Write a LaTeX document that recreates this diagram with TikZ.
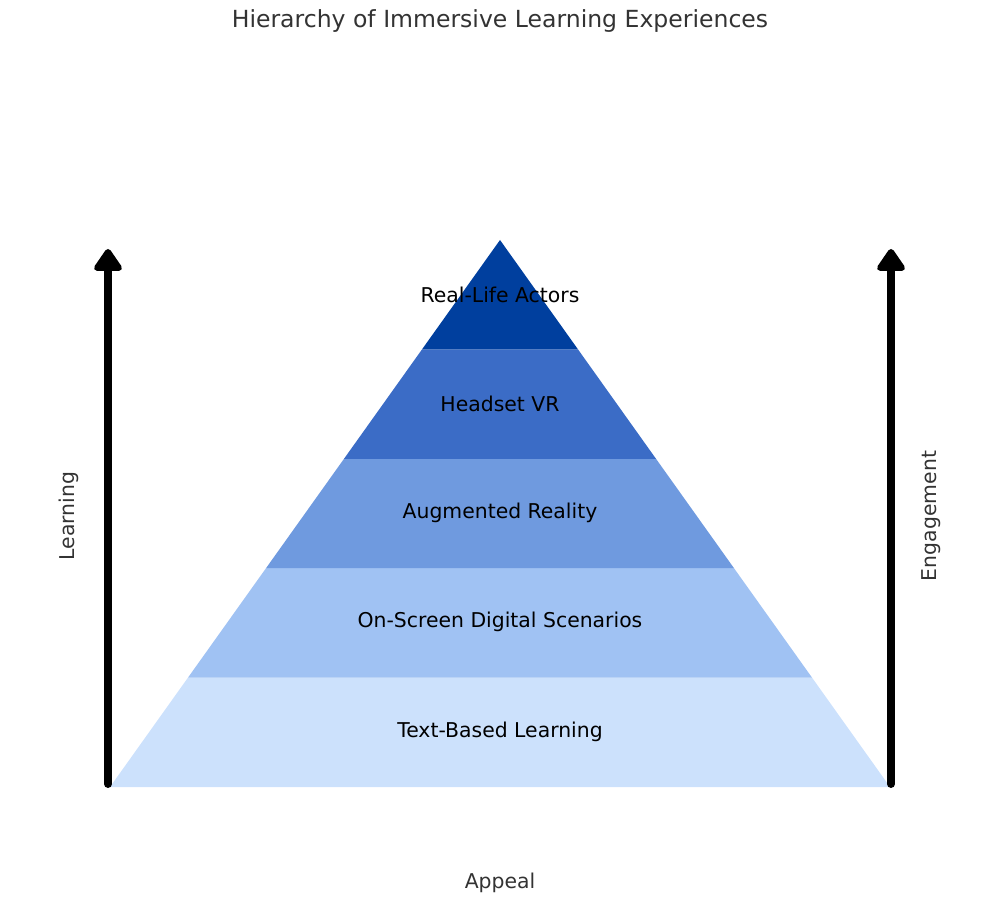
\documentclass[tikz,border=0pt]{standalone}
\usepackage{fontspec}
\setmainfont{DejaVu Sans}
\usetikzlibrary{arrows.meta, calc}
\definecolor{bandA}{HTML}{CCE1FC}
\definecolor{bandB}{HTML}{A0C2F3}
\definecolor{bandC}{HTML}{6F9ADF}
\definecolor{bandD}{HTML}{3B6CC6}
\definecolor{bandE}{HTML}{003F9E}
\definecolor{axisgray}{HTML}{333333}
\tikzset{
  bandlabel/.style={font=\fontsize{11.6}{13}\selectfont, text=black},
  axislabel/.style={font=\fontsize{11.6}{13}\selectfont, text=axisgray},
  bigarrow/.style={line width=4.5pt, -{Triangle[length=14pt,width=18pt,round]}, line cap=round, line join=round}
}
\begin{document}
\begin{tikzpicture}[x=0.02cm, y=-0.02cm]
\useasboundingbox (0,0) rectangle (1000,905);
% Define corners
\coordinate (apex) at (500,240);
\coordinate (bl) at (110,787);
\coordinate (br) at (890,787);
% bands, bottom to top
\foreach \col [count=\i from 0] in {bandA,bandB,bandC,bandD,bandE} {
  \pgfmathsetmacro{\lo}{\i/5}
  \pgfmathsetmacro{\hi}{(\i+1)/5}
  \fill[\col] ($(bl)!\lo!(apex)$) -- ($(br)!\lo!(apex)$) -- ($(br)!\hi!(apex)$) -- ($(bl)!\hi!(apex)$) -- cycle;
}
\node[bandlabel] (text) at (500,732) {Text-Based Learning};
\node[bandlabel] (screen) at (500,622) {On-Screen Digital Scenarios};
\node[bandlabel] (ar) at (500,513) {Augmented Reality};
\node[bandlabel] (vr) at (500,404) {Headset VR};
\node[bandlabel] (actors) at (500,295) {Real-Life Actors};
% axes
\coordinate (lfoot) at (108,784);
\coordinate (ltop) at (108,249);
\coordinate (rfoot) at (891,784);
\coordinate (rtop) at (891,249);
\draw[bigarrow] (lfoot) -- (ltop);
\draw[bigarrow] (rfoot) -- (rtop);
\node[axislabel, rotate=90] (learn) at (69,516) {Learning};
\node[axislabel, rotate=90] (engage) at (931,516) {Engagement};
\node[axislabel] (appeal) at (500,883) {Appeal};
\node[font=\fontsize{13.4}{15}\selectfont, text=axisgray] (title) at (500,21) {Hierarchy of Immersive Learning Experiences};
\end{tikzpicture}
\end{document}
